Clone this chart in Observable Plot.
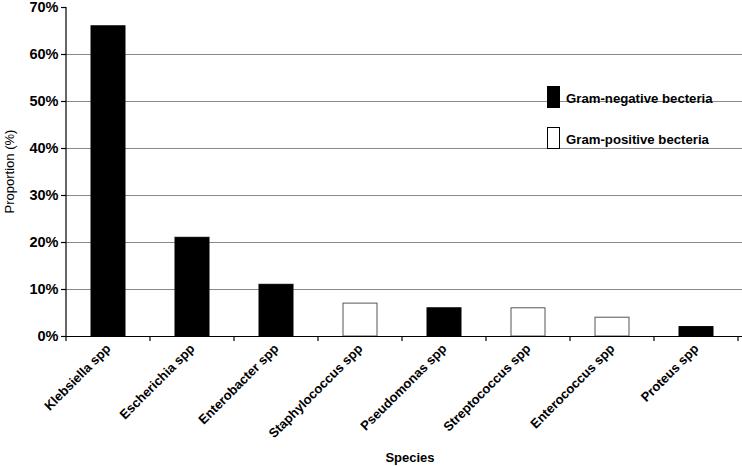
<!DOCTYPE html>
<html>
<head>
<meta charset="utf-8">
<script src="https://cdn.jsdelivr.net/npm/d3@7"></script>
<script src="https://cdn.jsdelivr.net/npm/@observablehq/plot@0.6"></script>
<style>
  body { margin: 0; background: #fff; }
  #wrap { position: relative; width: 742px; height: 467px; font-family: "Liberation Sans", Arial, sans-serif; }
  .leg { position: absolute; display: flex; align-items: center; font-weight: bold; font-size: 13.2px; color: #000; }
  .sw { width: 13px; height: 22px; border: 1px solid #000; box-sizing: border-box; margin-right: 6px; }
</style>
</head>
<body>
<div id="wrap"></div>
<script>
const species = ["Klebsiella spp", "Escherichia spp", "Enterobacter spp", "Staphylococcus spp", "Pseudomonas spp", "Streptococcus spp", "Enterococcus spp", "Proteus spp"];
const proportion = [66, 21, 11, 7, 6, 6, 4, 2];
const gram = ["Gram-negative becteria", "Gram-negative becteria", "Gram-negative becteria", "Gram-positive becteria", "Gram-negative becteria", "Gram-positive becteria", "Gram-positive becteria", "Gram-negative becteria"];
const groups = ["Gram-negative becteria", "Gram-positive becteria"];
const yTicks = [0, 10, 20, 30, 40, 50, 60, 70];
const gridTicks = [10, 20, 30, 40, 50, 60];

const data = species.map((s, i) => ({species: s, value: proportion[i], gram: gram[i]}));

const plot = Plot.plot({
  width: 742,
  height: 467,
  marginLeft: 66,
  marginRight: 4,
  marginTop: 7,
  marginBottom: 131,
  style: {fontFamily: "Liberation Sans, Arial, sans-serif", background: "#fff", color: "#000", overflow: "visible"},
  x: {domain: species, paddingInner: 0.6, paddingOuter: 0.3, label: null},
  y: {domain: [0, 70], label: null},
  color: {domain: groups, range: ["#000", "#fff"]},
  marks: [
    Plot.ruleY(gridTicks, {stroke: "#8a8a8a", strokeWidth: 1, insetRight: -4}),
    Plot.barY(data, {x: "species", y: "value", fill: "gram", stroke: d => d.gram === groups[0] ? "#000" : "#555", strokeWidth: 1}),
    Plot.axisY({ticks: yTicks, tickFormat: d => d + "%", tickSize: 5, tickPadding: 3, fontSize: 14.5, fontWeight: "bold", stroke: "#000", strokeWidth: 1.2}),
    Plot.axisX({tickSize: 0, tickRotate: -45, tickPadding: 10, fontSize: 13, fontWeight: "bold"}),
    Plot.ruleY([0], {stroke: "#000", strokeWidth: 1.2, insetRight: -4})
  ]
});

// boundary ticks of the band scale and the y axis line, from Plot's own scales
const xs = plot.scale("x");
const ys = plot.scale("y");
const y0 = ys.apply(0);
const yTop = ys.apply(70);
const step = xs.step;
const first = xs.apply(species[0]) - (step - xs.bandwidth) / 2;
const g = d3.select(plot).append("g").attr("stroke", "#000").attr("stroke-width", 1.2);
for (let i = 0; i <= species.length; i++) {
  const x = first + i * step;
  g.append("line").attr("x1", x).attr("x2", x).attr("y1", y0).attr("y2", y0 + 5);
}
g.append("line").attr("x1", first).attr("x2", first).attr("y1", yTop).attr("y2", y0);

// axis titles
d3.select(plot).append("text")
  .attr("transform", `translate(14,${(y0 + yTop) / 2}) rotate(-90)`)
  .attr("text-anchor", "middle").attr("font-size", 13).attr("fill", "#000")
  .text("Proportion (%)");
d3.select(plot).append("text")
  .attr("x", 410).attr("y", 462)
  .attr("text-anchor", "middle").attr("font-size", 13).attr("font-weight", "bold").attr("fill", "#000")
  .text("Species");

const wrap = document.getElementById("wrap");
wrap.appendChild(plot);

const cs = plot.scale("color");
const legTops = [86, 127];
groups.forEach((gname, i) => {
  const d = document.createElement("div");
  d.className = "leg";
  d.style.left = "547px";
  d.style.top = legTops[i] + "px";
  const sw = document.createElement("span");
  sw.className = "sw";
  sw.style.background = cs.apply(gname);
  d.appendChild(sw);
  const t = document.createElement("span");
  t.textContent = gname;
  t.style.position = "relative";
  t.style.top = "1px";
  d.appendChild(t);
  wrap.appendChild(d);
});
</script>
</body>
</html>
